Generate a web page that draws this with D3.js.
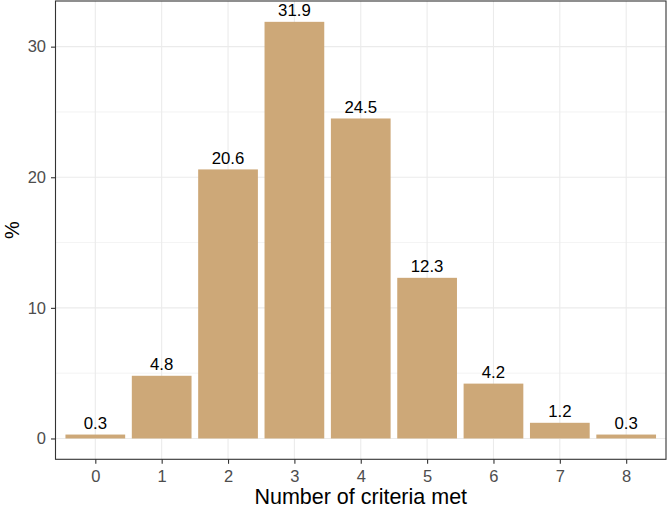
<!DOCTYPE html>
<html><head><meta charset="utf-8">
<script src="https://cdn.jsdelivr.net/npm/d3@7"></script>
<style>body{margin:0;background:#fff}svg{display:block;font-family:"Liberation Sans",Arial,sans-serif}</style>
</head><body><svg id="c" width="668" height="509"></svg>
<script>
const categories = ["0","1","2","3","4","5","6","7","8"];
const values = [0.3, 4.8, 20.6, 31.9, 24.5, 12.3, 4.2, 1.2, 0.3];
const yTicks = [0, 10, 20, 30];
const yMinor = [5, 15, 25];
const xTitle = "Number of criteria met";
const yTitle = "%";

const svg = d3.select("#c");
const L = 55.5, R = 666, T = 1, B = 459.3;
const n = categories.length;
const x = d3.scaleLinear().domain([-0.6, n - 1 + 0.6]).range([L, R]);
const ymax = d3.max(values);
const y = d3.scaleLinear().domain([-0.05 * ymax, ymax * 1.05]).range([B, T]);

const g = svg.append("g");
g.selectAll(".ymin").data(yMinor).join("line")
  .attr("x1", L).attr("x2", R).attr("y1", d => y(d)).attr("y2", d => y(d))
  .attr("stroke", "#EBEBEB").attr("stroke-width", 0.6);
g.selectAll(".ymaj").data(yTicks).join("line")
  .attr("x1", L).attr("x2", R).attr("y1", d => y(d)).attr("y2", d => y(d))
  .attr("stroke", "#EBEBEB").attr("stroke-width", 1.1);
g.selectAll(".xmaj").data(categories).join("line")
  .attr("y1", T).attr("y2", B).attr("x1", (d, i) => x(i)).attr("x2", (d, i) => x(i))
  .attr("stroke", "#EBEBEB").attr("stroke-width", 1.1);

const bw = 0.9;
g.selectAll(".bar").data(values).join("rect")
  .attr("x", (d, i) => x(i - bw / 2)).attr("width", x(bw) - x(0))
  .attr("y", d => y(d)).attr("height", d => y(0) - y(d))
  .attr("fill", "#CDA878");

g.selectAll(".lab").data(values).join("text")
  .attr("x", (d, i) => x(i)).attr("y", d => y(d) - 5.5)
  .attr("text-anchor", "middle").attr("font-size", 16.8).attr("fill", "#000")
  .text(d => d.toFixed(1));

svg.append("rect").attr("x", L).attr("y", T).attr("width", R - L).attr("height", B - T)
  .attr("fill", "none").attr("stroke", "#333333").attr("stroke-width", 1.1);

const xa = svg.append("g").attr("transform", `translate(0,${B})`)
  .call(d3.axisBottom(x).tickValues(d3.range(n)).tickFormat(i => categories[i]).tickSize(4.5).tickSizeOuter(0).tickPadding(6));
xa.select(".domain").remove();
xa.selectAll("line").attr("stroke", "#333333").attr("stroke-width", 1.1);
xa.selectAll("text").attr("fill", "#4D4D4D").attr("font-size", 16.5).attr("font-family", "Liberation Sans, Arial, sans-serif");

const ya = svg.append("g").attr("transform", `translate(${L},0)`)
  .call(d3.axisLeft(y).tickValues(yTicks).tickSize(4.5).tickSizeOuter(0).tickPadding(5));
ya.select(".domain").remove();
ya.selectAll("line").attr("stroke", "#333333").attr("stroke-width", 1.1);
ya.selectAll("text").attr("fill", "#4D4D4D").attr("font-size", 16.5).attr("font-family", "Liberation Sans, Arial, sans-serif");

svg.append("text").attr("x", (L + R) / 2).attr("y", 504).attr("text-anchor", "middle")
  .attr("font-size", 21.5).attr("fill", "#000").text(xTitle);
svg.append("text").attr("transform", `translate(19,${(T + B) / 2}) rotate(-90)`)
  .attr("text-anchor", "middle").attr("font-size", 20).attr("fill", "#000").text(yTitle);
</script></body></html>
